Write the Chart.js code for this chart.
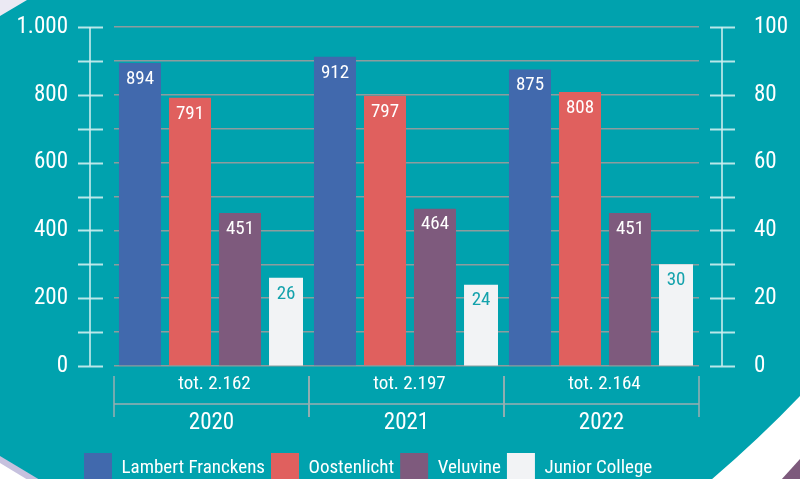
<!DOCTYPE html>
<html>
<head>
<meta charset="utf-8">
<script src="https://cdn.jsdelivr.net/npm/chart.js@4.4.1/dist/chart.umd.min.js"></script>
<style>
  html, body { margin:0; padding:0; background:#00a2ae; overflow:hidden; }
  #wrap { width:800px; height:479px; overflow:hidden; position:relative; }
  canvas { display:block; }
</style>
</head>
<body>
<div id="wrap"><canvas id="c" width="800" height="493"></canvas></div>
<script>
const categories = ['2020', '2021', '2022'];
const totals = ['tot. 2.162', 'tot. 2.197', 'tot. 2.164'];
const lambertFranckens = [894, 912, 875];
const oostenlicht = [791, 797, 808];
const veluvine = [451, 464, 451];
const juniorCollege = [26, 24, 30];
const leftTickLabels = ['0', '', '200', '', '400', '', '600', '', '800', '', '1.000'];
const rightTickLabels = ['0', '', '20', '', '40', '', '60', '', '80', '', '100'];

const FONT = "'Roboto Condensed', 'Liberation Sans Narrow', 'DejaVu Sans Condensed', Roboto, sans-serif";
const TEAL = '#00a2ae';

const background = {
  id: 'background',
  afterLayout(chart) {
    const lg = chart.legend;
    if (lg) { lg.left = 78; lg.width = lg.right - lg.left; }
  },
  beforeDraw(chart) {
    const ctx = chart.ctx;
    const W = chart.width, H = chart.height;
    ctx.save();
    ctx.fillStyle = TEAL;
    ctx.fillRect(0, 0, W, H);
    ctx.fillStyle = '#ebe9f3';
    ctx.beginPath(); ctx.moveTo(0, 0); ctx.lineTo(27, 0); ctx.lineTo(0, 16); ctx.closePath(); ctx.fill();
    ctx.fillStyle = '#c6c1de';
    ctx.beginPath(); ctx.moveTo(0, 456); ctx.lineTo(40, 480); ctx.lineTo(0, 480); ctx.closePath(); ctx.fill();
    ctx.fillStyle = '#ffffff';
    ctx.beginPath(); ctx.moveTo(0, 463); ctx.lineTo(28, 480); ctx.lineTo(0, 480); ctx.closePath(); ctx.fill();
    ctx.fillStyle = '#ffffff';
    ctx.beginPath(); ctx.moveTo(800, 396); ctx.quadraticCurveTo(760, 438, 711, 480); ctx.lineTo(800, 480); ctx.closePath(); ctx.fill();
    ctx.fillStyle = '#7d5a7c';
    ctx.beginPath(); ctx.moveTo(781, 480); ctx.lineTo(800, 459); ctx.lineTo(800, 480); ctx.closePath(); ctx.fill();
    ctx.restore();
  }
};

const axesDecor = {
  id: 'axesDecor',
  afterDraw(chart) {
    const ctx = chart.ctx;
    const y = chart.scales.y, y1 = chart.scales.y1, x = chart.scales.x;
    ctx.save();
    const lx = 90, rx = 722;
    const top = y.getPixelForValue(1000), bot = y.getPixelForValue(0);
    ctx.lineWidth = 1.5;
    ctx.strokeStyle = 'rgba(225,245,246,0.95)';
    ctx.beginPath(); ctx.moveTo(lx, top); ctx.lineTo(lx, bot); ctx.stroke();
    ctx.beginPath(); ctx.moveTo(rx, y1.getPixelForValue(100)); ctx.lineTo(rx, y1.getPixelForValue(0)); ctx.stroke();
    ctx.lineWidth = 2;
    ctx.strokeStyle = 'rgba(205,238,240,0.9)';
    y.ticks.forEach(t => {
      const p = Math.round(y.getPixelForValue(t.value)) + 0.5;
      ctx.beginPath(); ctx.moveTo(78, p); ctx.lineTo(103, p); ctx.stroke();
    });
    y1.ticks.forEach(t => {
      const p = Math.round(y1.getPixelForValue(t.value)) + 0.5;
      ctx.beginPath(); ctx.moveTo(710, p); ctx.lineTo(735, p); ctx.stroke();
    });
    const area = chart.chartArea;
    const w = (area.right - area.left) / categories.length;
    const b = area.bottom;
    ctx.strokeStyle = '#9aaeb0';
    ctx.lineWidth = 1.5;
    ctx.beginPath(); ctx.moveTo(area.left, b + 38); ctx.lineTo(area.right, b + 38); ctx.stroke();
    categories.forEach((c, i) => {
      const cx = x.getPixelForValue(i);
      [cx - w / 2, cx + w / 2].forEach(bx => {
        ctx.beginPath(); ctx.moveTo(bx, b + 10); ctx.lineTo(bx, b + 51); ctx.stroke();
      });
      ctx.fillStyle = '#ffffff';
      ctx.font = '19px ' + FONT;
      ctx.textAlign = 'center';
      ctx.textBaseline = 'middle';
      ctx.fillText(totals[i], cx + 3, b + 18);
    });
    ctx.restore();
  }
};

const barLabels = {
  id: 'barLabels',
  afterDatasetsDraw(chart) {
    const ctx = chart.ctx;
    ctx.save();
    ctx.font = '19px ' + FONT;
    ctx.textAlign = 'center';
    ctx.textBaseline = 'middle';
    chart.data.datasets.forEach((ds, di) => {
      const meta = chart.getDatasetMeta(di);
      meta.data.forEach((bar, i) => {
        ctx.fillStyle = ds.labelColor;
        ctx.fillText(String(ds.data[i]), bar.x, bar.y + 16);
      });
    });
    ctx.restore();
  }
};

new Chart(document.getElementById('c'), {
  type: 'bar',
  data: {
    labels: categories,
    datasets: [
      { label: 'Lambert Franckens', data: lambertFranckens, backgroundColor: '#4169ad', yAxisID: 'y',
        categoryPercentage: 0.978, barPercentage: 0.881, labelColor: '#ffffff' },
      { label: 'Oostenlicht', data: oostenlicht, backgroundColor: '#e0605e', yAxisID: 'y',
        categoryPercentage: 0.882, barPercentage: 0.977, labelColor: '#ffffff' },
      { label: 'Veluvine', data: veluvine, backgroundColor: '#7e5a7d', yAxisID: 'y',
        categoryPercentage: 1.169, barPercentage: 0.737, labelColor: '#ffffff' },
      { label: 'Junior College', data: juniorCollege, backgroundColor: '#f2f3f5', yAxisID: 'y1',
        categoryPercentage: 1.019, barPercentage: 0.684, labelColor: '#14a2ac' }
    ]
  },
  options: {
    responsive: false,
    animation: false,
    devicePixelRatio: 1,
    layout: { padding: { top: 27, left: 0, right: 0, bottom: 0 } },
    plugins: {
      legend: {
        position: 'bottom',
        align: 'start',
        labels: {
          color: '#ffffff',
          font: { family: FONT, size: 19 },
          boxWidth: 28,
          boxHeight: 30,
          padding: 6
        }
      },
      tooltip: { enabled: false }
    },
    scales: {
      x: {
        grid: { display: false, drawTicks: false },
        border: { display: false },
        ticks: { color: '#ffffff', font: { family: FONT, size: 23 }, padding: 43, maxRotation: 0 },
        afterFit(s) { s.height = 81; }
      },
      y: {
        position: 'left',
        min: 0, max: 1000,
        grid: { color: '#8d9c9e', lineWidth: 1.5, drawTicks: true, tickLength: 44, tickColor: 'rgba(0,0,0,0)' },
        border: { display: false },
        ticks: {
          stepSize: 100,
          color: '#ffffff',
          font: { family: FONT, size: 23 },
          padding: 2,
          callback: (v, i) => leftTickLabels[i]
        },
        afterFit(s) { s.width = 114; }
      },
      y1: {
        position: 'right',
        min: 0, max: 100,
        grid: { drawOnChartArea: false, drawTicks: true, tickLength: 53, tickColor: 'rgba(0,0,0,0)' },
        border: { display: false },
        ticks: {
          stepSize: 10,
          color: '#ffffff',
          font: { family: FONT, size: 23 },
          padding: 2,
          callback: (v, i) => rightTickLabels[i]
        },
        afterFit(s) { s.width = 101; }
      }
    }
  },
  plugins: [background, axesDecor, barLabels]
});
</script>
</body>
</html>
